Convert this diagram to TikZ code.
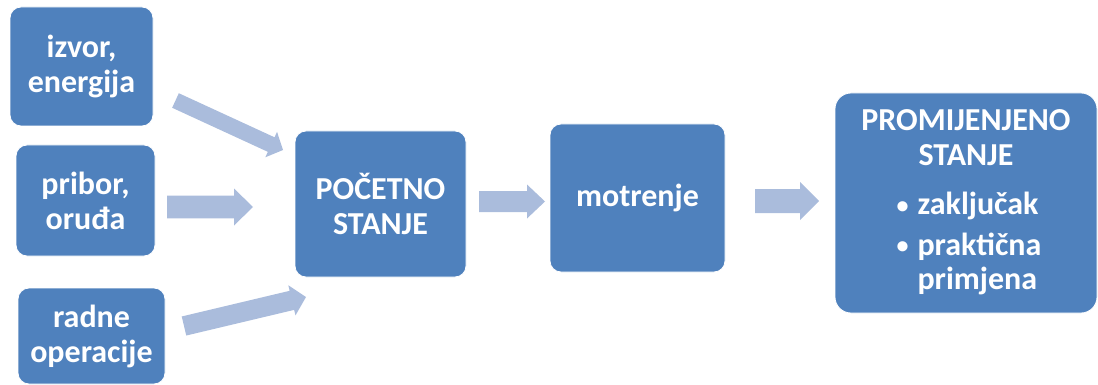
\documentclass[tikz,border=0pt]{standalone}
\usepackage{fontspec}
\setmainfont{Carlito}
\usetikzlibrary{calc}
\definecolor{boxblue}{RGB}{79,129,189}
\definecolor{arrowblue}{RGB}{170,188,220}
\newcommand\blockarrow[5]{% tail, tip, shaft half-width, head half-width, head length
  \coordinate (ab) at ($(#2)!#5!(#1)$);
  \fill[arrowfill] ($(#1)!#3!90:(#2)$) -- ($(ab)!#3!-90:(#1)$) -- ($(ab)!#4!-90:(#1)$)
    -- (#2) -- ($(ab)!#4!90:(#1)$) -- ($(ab)!#3!90:(#1)$) -- ($(#1)!#3!-90:(#2)$) -- cycle;
}
\newcommand\smallbullet{\raisebox{1.5pt}{\fontsize{24}{24}\selectfont\textbullet}}
\tikzset{
  box/.style={rectangle, rounded corners=11pt, fill=boxblue, draw=white, line width=0.8pt,
    text=white, align=center, inner sep=0pt,
    font=\fontsize{32}{35}\selectfont\bfseries},
  arrowfill/.style={fill=arrowblue}
}
\begin{document}
\begin{tikzpicture}[x=1pt,y=-1pt]
\useasboundingbox (0,0) rectangle (1098,385);
\node[box, minimum width=143pt, minimum height=119pt] (b1) at (81.5,66.5) {izvor,\\energija};
\node[box, minimum width=139pt, minimum height=111pt] (b2) at (85.5,200.5) {pribor,\\oruđa};
\node[box, minimum width=147pt, minimum height=96pt] (b3) at (91.5,336) {radne\\operacije};
\node[box, minimum width=171pt, minimum height=146pt] (b4) at (380.5,204) {POČETNO\\STANJE};
\node[box, minimum width=175pt, minimum height=148pt] (b5) at (637.5,198) {motrenje};
\node[box, rounded corners=16pt, minimum width=262pt, minimum height=220pt] (b6) at (966,203)
  {\begin{tabular}{@{}c@{}}PROMIJENJENO\\STANJE\\[15pt]
   \hspace*{6pt}\begin{tabular}{@{}l@{\hspace{9pt}}l@{}}\smallbullet&zaključak\\[5pt]\smallbullet&praktična\\&primjena\end{tabular}\end{tabular}};
% block arrows
\coordinate (t1) at (175.5,100.5); \coordinate (h1) at (283,150);
\coordinate (t2) at (167,207);     \coordinate (h2) at (253,207);
\coordinate (t3) at (184,326);     \coordinate (h3) at (306,297);
\coordinate (t4) at (479,201.5);   \coordinate (h4) at (545,201.5);
\coordinate (t5) at (755,201);     \coordinate (h5) at (819,201);
\blockarrow{t1}{h1}{8pt}{14pt}{13pt}
\blockarrow{t2}{h2}{11.3pt}{18.5pt}{19pt}
\blockarrow{t3}{h3}{9.8pt}{15.5pt}{14.5pt}
\blockarrow{t4}{h4}{10.5pt}{17pt}{18pt}
\blockarrow{t5}{h5}{12pt}{19pt}{19pt}
\end{tikzpicture}
\end{document}
